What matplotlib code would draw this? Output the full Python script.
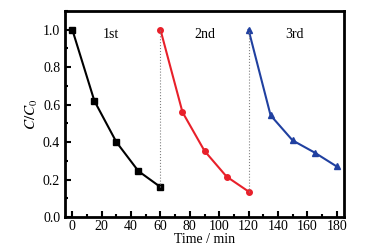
import matplotlib
matplotlib.use("Agg")
import matplotlib.pyplot as plt
from matplotlib.ticker import MultipleLocator

plt.rcParams['font.family'] = ['Liberation Serif', 'DejaVu Serif']
plt.rcParams['mathtext.fontset'] = 'stix'

t1 = [0, 15, 30, 45, 60]
c1 = [1.0, 0.62, 0.40, 0.245, 0.16]
t2 = [60, 75, 90, 105, 120]
c2 = [1.0, 0.56, 0.353, 0.216, 0.136]
t3 = [120, 135, 150, 165, 180]
c3 = [1.0, 0.543, 0.409, 0.344, 0.27]
run_labels = ['1st', '2nd', '3rd']
label_x = [26.5, 90.5, 151]

fig = plt.figure(figsize=(3.78, 2.49), dpi=100)
ax = fig.add_axes([65 / 378, 32 / 249, 279 / 378, 206 / 249])

ax.plot(t1, c1, '-s', color='black', lw=1.5, ms=4)
ax.plot(t2, c2, '-o', color='#e8202a', lw=1.5, ms=4)
ax.plot(t3, c3, '-^', color='#2040a0', lw=1.5, ms=4.5)

ax.plot([t1[-1], t2[0]], [c1[-1], c2[0]], ':', color='gray', lw=0.8)
ax.plot([t2[-1], t3[0]], [c2[-1], c3[0]], ':', color='gray', lw=0.8)

for lx, lab in zip(label_x, run_labels):
    ax.text(lx, 0.975, lab, fontsize=10, ha='center', va='center')

ax.set_xlim(-5, 185)
ax.set_ylim(0, 1.1)
ax.xaxis.set_major_locator(MultipleLocator(20))
ax.xaxis.set_minor_locator(MultipleLocator(10))
ax.yaxis.set_major_locator(MultipleLocator(0.2))
ax.yaxis.set_minor_locator(MultipleLocator(0.1))
ax.yaxis.set_major_formatter(matplotlib.ticker.FormatStrFormatter('%.1f'))
ax.tick_params(which='both', direction='in', labelsize=10, width=1.5)
ax.tick_params(which='major', length=4)
ax.tick_params(which='minor', length=2.5)
ax.tick_params(axis='x', pad=2)
for s in ax.spines.values():
    s.set_linewidth(2)

ax.set_xlabel('Time / min', fontsize=10, labelpad=0)
ax.set_ylabel(r'$C/C_0$', fontsize=11, labelpad=2)

fig.savefig('out.png', dpi=100)
